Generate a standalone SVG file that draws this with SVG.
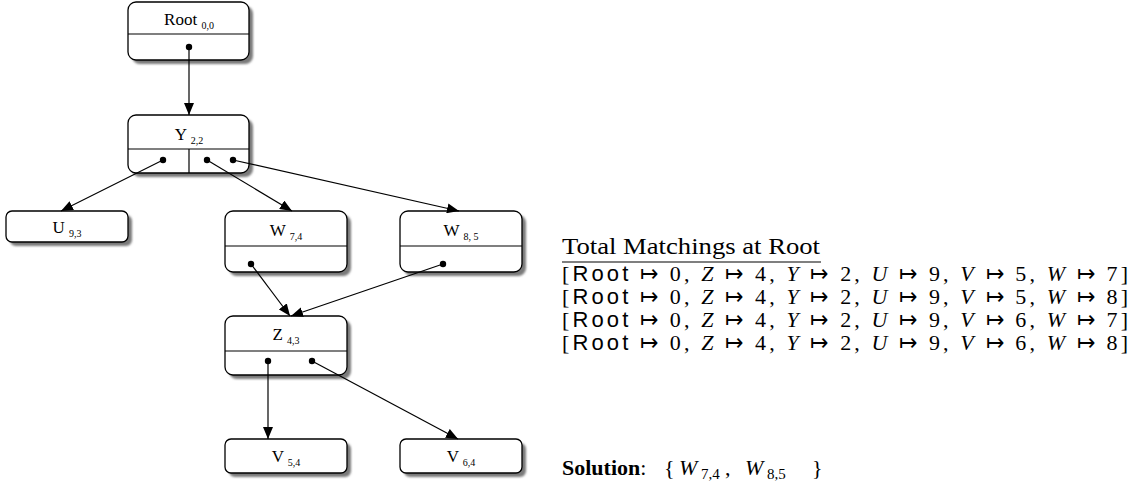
<svg xmlns="http://www.w3.org/2000/svg" width="1134" height="492" viewBox="0 0 1134 492">
<style>
.box{fill:#fff;stroke:#000;stroke-width:1.3}
.sh{fill:#7a7a7a;filter:url(#blur)}
.ln{stroke:#000;stroke-width:1.2;fill:none}
.lbl{font-family:"Liberation Serif",serif;font-size:17px;fill:#000}
.sub{font-size:10px}
.dot{fill:#000}
.con{stroke:#000;stroke-width:1.2;fill:none;marker-end:url(#ah)}
.txt{font-family:"Liberation Serif",serif;font-size:22px;fill:#000}
.ttl{font-family:"Liberation Serif",serif;font-size:24px;fill:#000}
.sol{font-family:"Liberation Serif",serif;font-size:22px;fill:#000}
.sf{font-family:"Liberation Sans",sans-serif}
.it{font-style:italic}
.ss{font-size:15px}
</style>
<defs>
<filter id="blur" x="-10%" y="-10%" width="120%" height="130%"><feGaussianBlur stdDeviation="1.2"/></filter>
<marker id="ah" markerWidth="12" markerHeight="10" refX="12" refY="5" orient="auto" markerUnits="userSpaceOnUse"><path d="M0,0 L12,5 L0,10 z" fill="#000"/></marker>
</defs>

<g id="root">
<rect class="sh" x="132" y="6" width="121" height="58" rx="8"/>
<rect class="box" x="128" y="2" width="121" height="58" rx="8"/>
<line class="ln" x1="128" y1="34" x2="249" y2="34"/>
<text class="lbl" x="189" y="25" text-anchor="middle">Root <tspan class="sub" dy="4">0,0</tspan></text>
<circle class="dot" cx="189" cy="47" r="3.2"/>
</g>

<g id="Y">
<rect class="sh" x="132" y="119" width="121" height="58" rx="8"/>
<rect class="box" x="128" y="115" width="121" height="58" rx="8"/>
<line class="ln" x1="128" y1="149" x2="249" y2="149"/>
<line class="ln" x1="189" y1="149" x2="189" y2="173"/>
<text class="lbl" x="189" y="140" text-anchor="middle">Y <tspan class="sub" dy="4">2,2</tspan></text>
<circle class="dot" cx="163" cy="160" r="3.2"/>
<circle class="dot" cx="207" cy="160" r="3.2"/>
<circle class="dot" cx="233" cy="160" r="3.2"/>
</g>

<g id="U">
<rect class="sh" x="10" y="215" width="122" height="31" rx="6"/>
<rect class="box" x="6" y="211" width="122" height="31" rx="6"/>
<text class="lbl" x="67" y="233" text-anchor="middle">U <tspan class="sub" dy="4">9,3</tspan></text>
</g>

<g id="W74">
<rect class="sh" x="229" y="215" width="122" height="61" rx="8"/>
<rect class="box" x="225" y="211" width="122" height="61" rx="8"/>
<line class="ln" x1="225" y1="246" x2="347" y2="246"/>
<text class="lbl" x="286" y="236" text-anchor="middle">W <tspan class="sub" dy="4">7,4</tspan></text>
<circle class="dot" cx="251" cy="264" r="3.2"/>
</g>

<g id="W85">
<rect class="sh" x="404" y="215" width="122" height="61" rx="8"/>
<rect class="box" x="400" y="211" width="122" height="61" rx="8"/>
<line class="ln" x1="400" y1="246" x2="522" y2="246"/>
<text class="lbl" x="461" y="236" text-anchor="middle">W <tspan class="sub" dy="4">8, 5</tspan></text>
<circle class="dot" cx="443" cy="264" r="3.2"/>
</g>

<g id="Z">
<rect class="sh" x="229" y="320" width="122" height="59" rx="8"/>
<rect class="box" x="225" y="316" width="122" height="59" rx="8"/>
<line class="ln" x1="225" y1="351" x2="347" y2="351"/>
<text class="lbl" x="286" y="340" text-anchor="middle">Z <tspan class="sub" dy="4">4,3</tspan></text>
<circle class="dot" cx="268" cy="361" r="3.2"/>
<circle class="dot" cx="312" cy="361" r="3.2"/>
</g>

<g id="V54">
<rect class="sh" x="229" y="443" width="122" height="34" rx="6"/>
<rect class="box" x="225" y="439" width="122" height="34" rx="6"/>
<text class="lbl" x="286" y="462" text-anchor="middle">V <tspan class="sub" dy="4">5,4</tspan></text>
</g>

<g id="V64">
<rect class="sh" x="404" y="443" width="122" height="34" rx="6"/>
<rect class="box" x="400" y="439" width="122" height="34" rx="6"/>
<text class="lbl" x="461" y="462" text-anchor="middle">V <tspan class="sub" dy="4">6,4</tspan></text>
</g>

<g id="connectors">
<line class="con" x1="189" y1="47" x2="189" y2="115"/>
<line class="con" x1="163" y1="160" x2="61" y2="211"/>
<line class="con" x1="207" y1="160" x2="292" y2="211"/>
<line class="con" x1="233" y1="160" x2="459" y2="211"/>
<line class="con" x1="251" y1="264" x2="290" y2="316"/>
<line class="con" x1="443" y1="264" x2="291" y2="316"/>
<line class="con" x1="268" y1="361" x2="268" y2="439"/>
<line class="con" x1="312" y1="361" x2="458" y2="439"/>
</g>

<g id="matchings">
<text class="ttl" x="562" y="254" textLength="258" lengthAdjust="spacingAndGlyphs">Total Matchings at Root</text>
<line class="ln" x1="562" y1="262" x2="821" y2="262"/>
<text class="txt" x="562" y="281" textLength="566">[<tspan class="sf">Root</tspan> ↦ 0, <tspan class="it">Z</tspan> ↦ 4, <tspan class="it">Y</tspan> ↦ 2, <tspan class="it">U</tspan> ↦ 9, <tspan class="it">V</tspan> ↦ 5, <tspan class="it">W</tspan> ↦ 7]</text>
<text class="txt" x="562" y="304" textLength="566">[<tspan class="sf">Root</tspan> ↦ 0, <tspan class="it">Z</tspan> ↦ 4, <tspan class="it">Y</tspan> ↦ 2, <tspan class="it">U</tspan> ↦ 9, <tspan class="it">V</tspan> ↦ 5, <tspan class="it">W</tspan> ↦ 8]</text>
<text class="txt" x="562" y="327" textLength="566">[<tspan class="sf">Root</tspan> ↦ 0, <tspan class="it">Z</tspan> ↦ 4, <tspan class="it">Y</tspan> ↦ 2, <tspan class="it">U</tspan> ↦ 9, <tspan class="it">V</tspan> ↦ 6, <tspan class="it">W</tspan> ↦ 7]</text>
<text class="txt" x="562" y="350" textLength="566">[<tspan class="sf">Root</tspan> ↦ 0, <tspan class="it">Z</tspan> ↦ 4, <tspan class="it">Y</tspan> ↦ 2, <tspan class="it">U</tspan> ↦ 9, <tspan class="it">V</tspan> ↦ 6, <tspan class="it">W</tspan> ↦ 8]</text>
</g>

<g id="solution">
<text class="sol" x="562" y="475"><tspan font-weight="bold">Solution</tspan>:<tspan x="664">{</tspan><tspan class="it" x="679">W</tspan><tspan class="ss" x="701" dy="4">7,4</tspan><tspan x="725" dy="-4">,</tspan><tspan class="it" x="745">W</tspan><tspan class="ss" x="767" dy="4">8,5</tspan><tspan x="812" dy="-4">}</tspan></text>
</g>
</svg>
